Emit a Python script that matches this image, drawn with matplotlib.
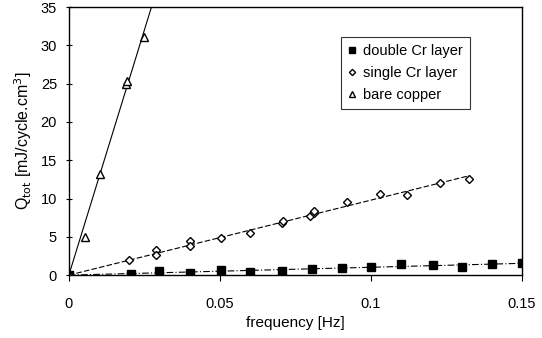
import numpy as np
import matplotlib
matplotlib.use("Agg")
import matplotlib.pyplot as plt

plt.rcParams['font.family'] = ['Liberation Sans', 'DejaVu Sans']

# data
cu_f = [0.0, 0.0053, 0.0103, 0.019, 0.0192, 0.0248]
cu_q = [0.0, 5.0, 13.2, 24.9, 25.3, 31.1]

single_f = [0.0, 0.020, 0.029, 0.029, 0.040, 0.040, 0.0505, 0.060, 0.0705, 0.071,
            0.080, 0.081, 0.081, 0.092, 0.103, 0.112, 0.123, 0.1325]
single_q = [0.0, 1.96, 3.3, 2.6, 4.4, 3.8, 4.8, 5.5, 6.8, 7.1,
            7.7, 8.1, 8.4, 9.5, 10.6, 10.4, 12.0, 12.5]

double_f = [0.0, 0.0205, 0.030, 0.040, 0.0505, 0.060, 0.0705, 0.0805, 0.0905, 0.100,
            0.110, 0.1205, 0.130, 0.140, 0.150]
double_q = [0.0, 0.13, 0.5, 0.3, 0.65, 0.4, 0.6, 0.8, 0.9, 1.0,
            1.4, 1.3, 1.1, 1.5, 1.6]

xticks = [0, 0.05, 0.1, 0.15]
xticklabels = ['0', '0.05', '0.1', '0.15']
yticks = [0, 5, 10, 15, 20, 25, 30, 35]


def slope0(x, y):
    x = np.asarray(x); y = np.asarray(y)
    return float(np.sum(x * y) / np.sum(x * x))


fig = plt.figure(figsize=(5.42, 3.38), dpi=100)
ax = fig.add_axes([0.127, 0.186, 0.836, 0.793])

# trend lines through origin
s_cu = slope0(cu_f, cu_q)
xl = np.array([0, 0.15])
ax.plot(xl, s_cu * xl, color='black', lw=0.8, solid_capstyle='butt')
s_si = slope0(single_f, single_q)
xs = np.array([0, max(single_f)])
ax.plot(xs, s_si * xs, color='black', lw=0.8, ls=(0, (5, 2)))
s_do = slope0(double_f, double_q)
xd = np.array([0, max(double_f)])
ax.plot(xd, s_do * xd, color='black', lw=0.8, ls=(0, (6, 2, 1, 2)))

ax.plot(double_f, double_q, ls='none', marker='s', ms=5.5, mfc='black', mec='black',
        label='double Cr layer')
ax.plot(single_f, single_q, ls='none', marker='D', ms=4.5, mfc='white', mec='black',
        mew=1.0, label='single Cr layer')
ax.plot(cu_f, cu_q, ls='none', marker='^', ms=6, mfc='white', mec='black',
        mew=1.0, label='bare copper')

ax.set_xlim(0, 0.15)
ax.set_ylim(0, 35)
ax.set_xticks(xticks)
ax.set_xticklabels(xticklabels)
ax.set_yticks(yticks)
ax.tick_params(axis='x', labelsize=10.5, direction='out', length=4, width=0.8, pad=12)
ax.tick_params(axis='y', labelsize=10.5, direction='inout', length=5, width=0.8, pad=6)
for sp in ax.spines.values():
    sp.set_linewidth(1.0)

ax.set_xlabel('frequency [Hz]', fontsize=11, labelpad=3)
ax.set_ylabel(r'Q$_{\rm tot}$ [mJ/cycle.cm$^3$]', fontsize=11.5, labelpad=5)

leg = ax.legend(loc='upper left', bbox_to_anchor=(0.6, 0.89), fontsize=10.5,
                frameon=True, fancybox=False, edgecolor='black', handlelength=0.5,
                handletextpad=0.5, borderpad=0.5, labelspacing=0.55, markerscale=0.7,
                borderaxespad=0)
leg.get_frame().set_linewidth(0.8)

fig.savefig('out.png', dpi=100)
